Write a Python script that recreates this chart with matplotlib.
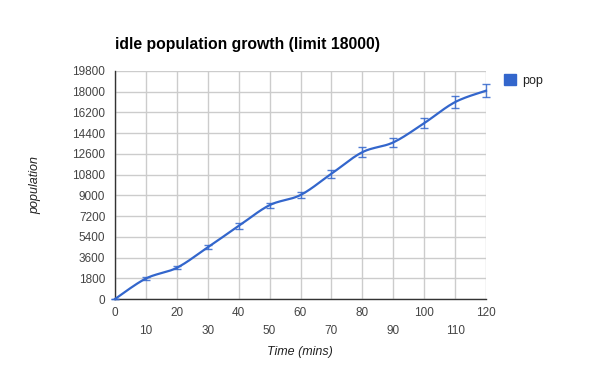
import numpy as np
import matplotlib.pyplot as plt
from matplotlib.patches import Patch

plt.rcParams['font.family'] = ['Liberation Sans', 'DejaVu Sans']

time_mins = [0, 10, 20, 30, 40, 50, 60, 70, 80, 90, 100, 110, 120]
pop = [0, 1780, 2710, 4490, 6340, 8150, 9030, 10880, 12750, 13600, 15270, 17100, 18090]
pop_err = [0, 90, 130, 170, 250, 220, 250, 330, 420, 400, 450, 520, 550]

y_ticks = np.arange(0, 19801, 1800)
blue = '#3366cc'


def cardinal_spline(x, y, n=20, tension=0.5):
    # smooth curve through the points, like the "function" curve type
    x = np.asarray(x, float)
    y = np.asarray(y, float)
    px, py = [], []
    for i in range(len(x) - 1):
        x0, x1 = x[max(i - 1, 0)], x[i]
        x2, x3 = x[i + 1], x[min(i + 2, len(x) - 1)]
        y0, y1 = y[max(i - 1, 0)], y[i]
        y2, y3 = y[i + 1], y[min(i + 2, len(y) - 1)]
        t = np.linspace(0, 1, n, endpoint=False)
        m1x, m1y = tension * (x2 - x0), tension * (y2 - y0)
        m2x, m2y = tension * (x3 - x1), tension * (y3 - y1)
        h00 = 2 * t**3 - 3 * t**2 + 1
        h10 = t**3 - 2 * t**2 + t
        h01 = -2 * t**3 + 3 * t**2
        h11 = t**3 - t**2
        px.extend(h00 * x1 + h10 * m1x + h01 * x2 + h11 * m2x)
        py.extend(h00 * y1 + h10 * m1y + h01 * y2 + h11 * m2y)
    px.append(x[-1])
    py.append(y[-1])
    return np.array(px), np.array(py)


fig = plt.figure(figsize=(6, 3.71), dpi=100)
ax = fig.add_axes([115 / 600, 1 - 299 / 371, 371 / 600, 228 / 371])

sx, sy = cardinal_spline(time_mins, pop)
ax.plot(sx, sy, color=blue, lw=1.6, zorder=3, clip_on=False)
ax.errorbar(time_mins, pop, yerr=pop_err, fmt='none', ecolor=blue,
            elinewidth=1.0, capsize=3, capthick=1.0, alpha=0.85,
            zorder=3, clip_on=False)

ax.set_xlim(0, 120)
ax.set_ylim(0, 19800)
ax.set_yticks(y_ticks)
ax.set_xticks(time_mins[::2])
ax.set_xticks(time_mins[1::2], minor=True)
ax.set_xticklabels([str(t) for t in time_mins[::2]])
ax.set_xticklabels([str(t) for t in time_mins[1::2]], minor=True)

ax.grid(True, which='both', color='#cccccc', lw=1.0)
ax.set_axisbelow(True)
ax.tick_params(axis='both', which='both', length=0, labelsize=8.5, labelcolor='#444444')
ax.tick_params(axis='x', which='major', pad=6)
ax.tick_params(axis='x', which='minor', pad=18.5)
ax.tick_params(axis='y', pad=7)

for side in ['top', 'right']:
    ax.spines[side].set_visible(False)
for side in ['left', 'bottom']:
    ax.spines[side].set_color('#333333')
    ax.spines[side].set_linewidth(1.0)

fig.text(115 / 600, 1 - 45 / 371, 'idle population growth (limit 18000)',
         fontsize=11.3, fontweight='bold', color='black', va='center', ha='left')
fig.text(300 / 600, 1 - 352 / 371, 'Time (mins)', fontsize=9, style='italic',
         color='#222222', ha='center', va='center')
fig.text(35 / 600, 1 - 185 / 371, 'population', fontsize=9, style='italic',
         color='#222222', ha='center', va='center', rotation=90)

fig.legend(handles=[Patch(facecolor=blue, edgecolor=blue, label='pop')],
           loc='upper left', bbox_to_anchor=(493 / 600, 1 - 63 / 371),
           frameon=False, fontsize=9, handlelength=0.9, handleheight=0.9,
           handletextpad=0.5, labelcolor='#222222')

fig.savefig('out.png', dpi=100)
